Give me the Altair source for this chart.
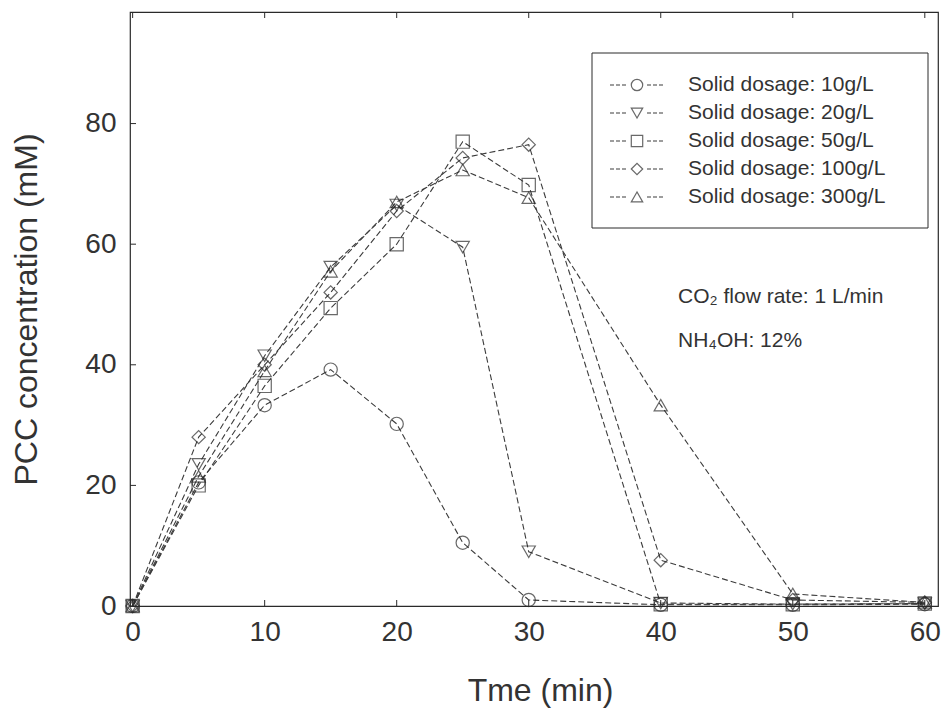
import altair as alt
import pandas as pd

times = [0, 5, 10, 15, 20, 25, 30, 40, 50, 60]
labels = ["Solid dosage: 10g/L", "Solid dosage: 20g/L", "Solid dosage: 50g/L",
          "Solid dosage: 100g/L", "Solid dosage: 300g/L"]
s10 = [0, 20.5, 33.3, 39.2, 30.2, 10.5, 1.0, 0.2, 0.2, 0.3]
s20 = [0, 23.5, 41.5, 56.2, 66.5, 59.5, 9.0, 0.5, 0.3, 0.4]
s50 = [0, 20.0, 36.5, 49.4, 60.0, 77.0, 69.8, 0.3, 0.3, 0.4]
s100 = [0, 28.0, 40.0, 52.0, 65.5, 74.3, 76.5, 7.6, 1.0, 0.6]
s300 = [0, 21.5, 39.0, 55.5, 67.0, 72.3, 67.7, 33.3, 2.0, 0.6]
shapes = ["circle", "triangle-down", "square", "diamond", "triangle-up"]
x_ticks = [0, 10, 20, 30, 40, 50, 60]
y_ticks = [0, 20, 40, 60, 80]
notes = ["CO₂ flow rate: 1 L/min", "NH₄OH: 12%"]

rows = []
for lab, vals in zip(labels, [s10, s20, s50, s100, s300]):
    for t, v in zip(times, vals):
        rows.append({"t": t, "v": v, "series": lab})
df = pd.DataFrame(rows)

FONT = "Liberation Sans"
INK = "#2a2a2a"

xs = alt.Scale(domain=[-0.2, 61], nice=False, zero=False)
ys = alt.Scale(domain=[0, 98.5], nice=False)
shape_scale = alt.Scale(domain=labels, range=shapes)

X = alt.X("t:Q", scale=xs,
          axis=alt.Axis(values=x_ticks, title="Tme (min)", titleX=410, titleY=84,
                        titleBaseline="middle", titleAlign="center",
                        labelPadding=12))
Y = alt.Y("v:Q", scale=ys,
          axis=alt.Axis(values=y_ticks, title="PCC concentration (mM)",
                        titleX=-104, titleY=297, titleBaseline="middle",
                        titleAlign="center", labelPadding=14))

lines = alt.Chart(df).mark_line(strokeDash=[6, 3], color="#3c3c3c", strokeWidth=1.1).encode(
    x=X, y=Y, detail="series:N")
points = alt.Chart(df).mark_point(filled=False, size=175, color=INK, strokeWidth=1.2).encode(
    x=alt.X("t:Q", scale=xs), y=alt.Y("v:Q", scale=ys),
    shape=alt.Shape("series:N", scale=shape_scale, legend=None))

xt = pd.DataFrame({"t": x_ticks})
yt = pd.DataFrame({"v": y_ticks})
tick_bottom = alt.Chart(xt).mark_rule(color=INK).encode(
    x=alt.X("t:Q", scale=xs), y=alt.value(594), y2=alt.value(588))
tick_top = alt.Chart(xt).mark_rule(color=INK).encode(
    x=alt.X("t:Q", scale=xs), y=alt.value(0), y2=alt.value(6))
tick_left = alt.Chart(yt).mark_rule(color=INK).encode(
    y=alt.Y("v:Q", scale=ys), x=alt.value(0), x2=alt.value(6))

one = pd.DataFrame({"k": [0]})
note1 = alt.Chart(one).mark_text(align="left", baseline="alphabetic", font=FONT,
                                 fontSize=21, color="#333").encode(
    x=alt.value(548), y=alt.value(291), text=alt.value(notes[0]))
note2 = alt.Chart(one).mark_text(align="left", baseline="alphabetic", font=FONT,
                                 fontSize=21, color="#333").encode(
    x=alt.value(548), y=alt.value(335), text=alt.value(notes[1]))

main = alt.layer(lines, points, tick_bottom, tick_top, tick_left, note1, note2)

leg = pd.DataFrame({"series": labels})
LY = alt.Y("series:N", scale=alt.Scale(type="point", domain=labels, range=[73, 185], padding=0),
           axis=None)
box = alt.Chart(one).mark_rect(fill="white", stroke=INK, strokeWidth=1).encode(
    x=alt.value(462), x2=alt.value(798), y=alt.value(41), y2=alt.value(216))
leg_l = alt.Chart(leg).mark_rule(color="#3c3c3c", strokeDash=[4, 2], strokeWidth=1.1).encode(
    x=alt.value(480), x2=alt.value(497), y=LY)
leg_r = alt.Chart(leg).mark_rule(color="#3c3c3c", strokeDash=[4, 2], strokeWidth=1.1).encode(
    x=alt.value(517), x2=alt.value(535), y=LY)
leg_p = alt.Chart(leg).mark_point(filled=False, size=130, color=INK, strokeWidth=1.2).encode(
    x=alt.value(507), y=LY, shape=alt.Shape("series:N", scale=shape_scale, legend=None))
leg_t = alt.Chart(leg).mark_text(align="left", baseline="middle", font=FONT, fontSize=21,
                                 color="#333").encode(
    x=alt.value(558), y=LY, text="series:N")
legend = alt.layer(box, leg_l, leg_r, leg_p, leg_t)

chart = alt.layer(main, legend).resolve_scale(y="independent").properties(
    width=808, height=594,
    autosize=alt.AutoSizeParams(type="none"),
    padding={"left": 130, "top": 12, "right": 4, "bottom": 105},
    background="white",
).configure_view(stroke=INK, strokeWidth=1.2).configure_axis(
    domain=False, grid=False, ticks=False, tickSize=0,
    labelFont=FONT, labelFontSize=28, labelColor="#333",
    titleFont=FONT, titleFontSize=32, titleFontWeight="normal", titleColor="#333",
)

chart.save("out.html", embed_options={"renderer": "svg", "actions": False})
